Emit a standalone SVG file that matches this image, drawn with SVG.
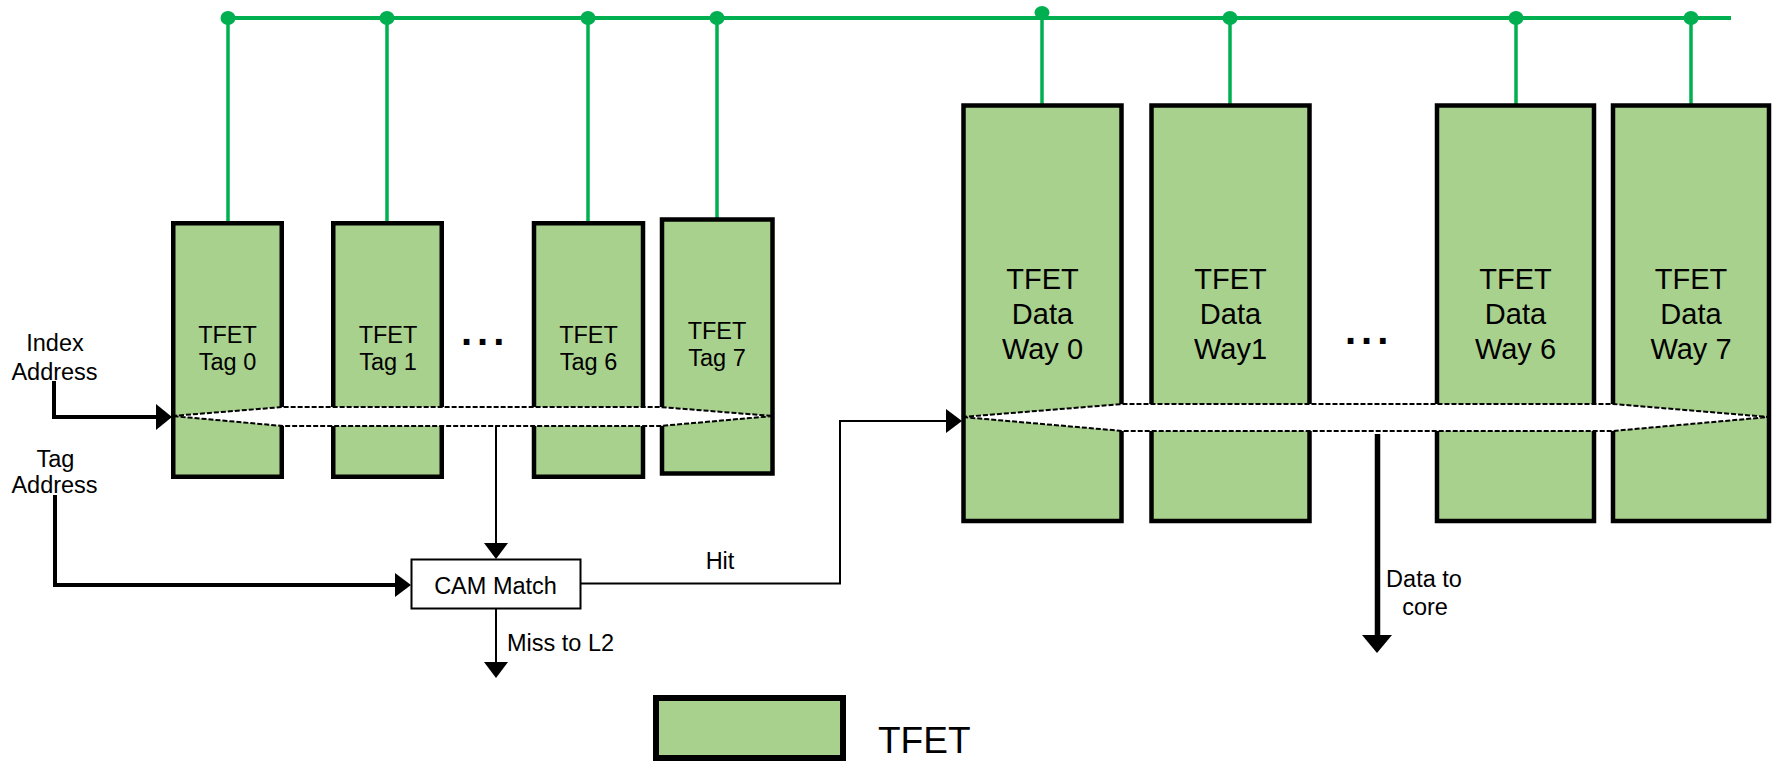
<svg xmlns="http://www.w3.org/2000/svg" width="1773" height="762" viewBox="0 0 1773 762">
<style>
.box{fill:#A9D18E;stroke:#000;stroke-width:4.5}
.g{stroke:#00B050;stroke-width:3.5;fill:none}
.dot{fill:#00B050}
.t{font-family:"Liberation Sans",Arial,sans-serif;font-size:23.5px;fill:#000}
.c{text-anchor:middle}
.td{font-family:"Liberation Sans",Arial,sans-serif;font-size:29px;fill:#000;text-anchor:middle}
.lens{fill:#fff;stroke:#000;stroke-width:2;stroke-dasharray:5 2}
.thin{stroke:#000;stroke-width:2;fill:none}
.thick{stroke:#000;stroke-width:4;fill:none}
.dots{font-family:"Liberation Sans",Arial,sans-serif;font-size:40px;font-weight:bold;letter-spacing:5px;fill:#000}
</style>
<g id="bus">
<line class="g" x1="226" y1="18" x2="1731" y2="18" style="stroke-width:4"/>
<ellipse class="dot" cx="228" cy="18" rx="7.5" ry="7"/>
<ellipse class="dot" cx="387" cy="18" rx="7.5" ry="7"/>
<ellipse class="dot" cx="588" cy="18" rx="7.5" ry="7"/>
<ellipse class="dot" cx="717" cy="18" rx="7.5" ry="7"/>
<ellipse class="dot" cx="1042" cy="12.5" rx="7.5" ry="6.5"/>
<ellipse class="dot" cx="1230" cy="18" rx="7.5" ry="7"/>
<ellipse class="dot" cx="1516" cy="18" rx="7.5" ry="7"/>
<ellipse class="dot" cx="1691" cy="18" rx="7.5" ry="7"/>
<line class="g" x1="228" y1="18" x2="228" y2="222"/>
<line class="g" x1="387" y1="18" x2="387" y2="222"/>
<line class="g" x1="588" y1="18" x2="588" y2="222"/>
<line class="g" x1="717" y1="18" x2="717" y2="218"/>
<line class="g" x1="1042" y1="12" x2="1042" y2="104"/>
<line class="g" x1="1230" y1="18" x2="1230" y2="104"/>
<line class="g" x1="1516" y1="18" x2="1516" y2="104"/>
<line class="g" x1="1691" y1="18" x2="1691" y2="104"/>
</g>
<g id="tag0"><rect class="box" x="173.25" y="223.25" width="108.5" height="253.5"/><text class="t c" x="227.5" y="343">TFET</text><text class="t c" x="227.5" y="370">Tag 0</text></g>
<g id="tag1"><rect class="box" x="333.25" y="223.25" width="108.5" height="253.5"/><text class="t c" x="388" y="343">TFET</text><text class="t c" x="388" y="370">Tag 1</text></g>
<g id="tag6"><rect class="box" x="534" y="223.25" width="109" height="253.5"/><text class="t c" x="588.5" y="343">TFET</text><text class="t c" x="588.5" y="370">Tag 6</text></g>
<g id="tag7"><rect class="box" x="662" y="219.5" width="110.5" height="254"/><text class="t c" x="717" y="339">TFET</text><text class="t c" x="717" y="366">Tag 7</text></g>
<g id="way0"><rect class="box" x="963.5" y="105.5" width="158" height="415.5"/><text class="td" x="1042.5" y="289">TFET</text><text class="td" x="1042.5" y="324">Data</text><text class="td" x="1042.5" y="359">Way 0</text></g>
<g id="way1"><rect class="box" x="1151.5" y="105.5" width="158" height="415.5"/><text class="td" x="1230.5" y="289">TFET</text><text class="td" x="1230.5" y="324">Data</text><text class="td" x="1230.5" y="359">Way1</text></g>
<g id="way6"><rect class="box" x="1437" y="105.5" width="157" height="415.5"/><text class="td" x="1515.5" y="289">TFET</text><text class="td" x="1515.5" y="324">Data</text><text class="td" x="1515.5" y="359">Way 6</text></g>
<g id="way7"><rect class="box" x="1613" y="105.5" width="156" height="415.5"/><text class="td" x="1691" y="289">TFET</text><text class="td" x="1691" y="324">Data</text><text class="td" x="1691" y="359">Way 7</text></g>
<g id="ellipsis">
<text class="dots" x="461" y="345">...</text>
<text class="dots" x="1345" y="344">...</text>
</g>
<g id="tag-bus"><polygon class="lens" points="172,416 283,407 660,407 773,416 660,426 283,426"/></g>
<g id="data-bus"><polygon class="lens" points="962,417 1123,404 1613,404 1769,417 1613,431 1123,431"/></g>
<g id="cam"><rect x="411.5" y="559.5" width="169" height="49" fill="#fff" stroke="#000" stroke-width="2"/><text class="t c" x="495.5" y="594">CAM Match</text></g>
<g id="connectors">
<path class="thick" d="M54,381 V417 H158"/>
<polygon points="156,404 172,417 156,430"/>
<path class="thick" d="M55,495 V585 H397"/>
<polygon points="395,573 411,585 395,597"/>
<line class="thin" x1="496" y1="426" x2="496" y2="545"/>
<polygon points="484,543 508,543 496,559"/>
<line class="thin" x1="496" y1="609" x2="496" y2="664"/>
<polygon points="484,662 508,662 496,678"/>
<path class="thin" d="M581,583.5 H840 V421 H948"/>
<polygon points="946,409 962,421 946,433"/>
<line x1="1377.5" y1="434" x2="1377.5" y2="637" stroke="#000" stroke-width="5.5"/>
<polygon points="1362,635 1392,635 1377,653"/>
</g>
<g id="labels">
<text class="t c" x="55" y="351">Index</text>
<text class="t c" x="54.5" y="380">Address</text>
<text class="t c" x="55.5" y="467">Tag</text>
<text class="t c" x="54.5" y="493">Address</text>
<text class="t c" x="720" y="569">Hit</text>
<text class="t" x="507" y="651">Miss to L2</text>
<text class="t c" x="1424" y="587">Data to</text>
<text class="t c" x="1425" y="615">core</text>
</g>
<g id="legend">
<rect x="656" y="698" width="187" height="60" fill="#A9D18E" stroke="#000" stroke-width="6"/>
<text x="878" y="753" style="font-family:'Liberation Sans',Arial,sans-serif;font-size:37px">TFET</text>
</g>
</svg>
